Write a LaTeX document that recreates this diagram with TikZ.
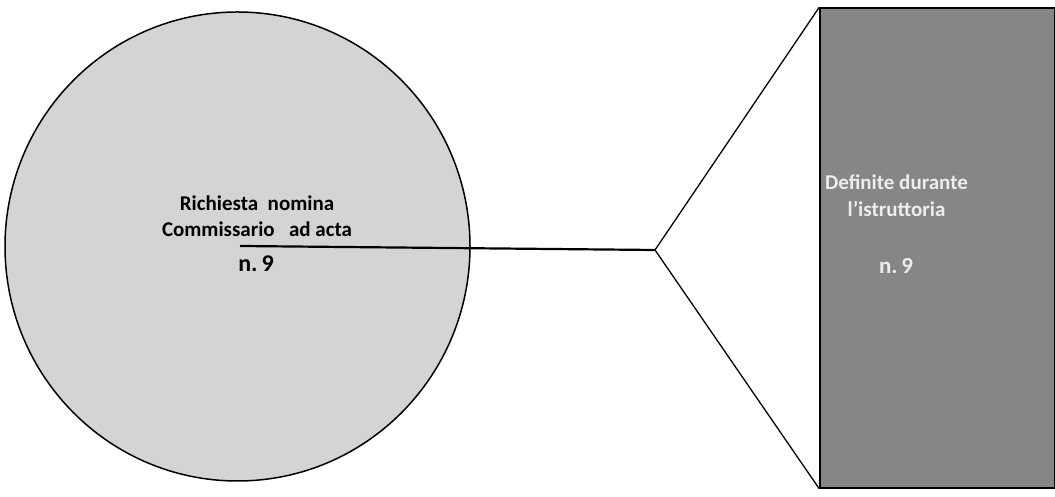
\documentclass[tikz,border=0pt]{standalone}
\usepackage{fontspec}
\setmainfont{Carlito}
\usepackage{tikz}
\usetikzlibrary{shapes.geometric,positioning}
\definecolor{discfill}{HTML}{D4D4D4}
\definecolor{boxfill}{HTML}{868686}
\definecolor{boxtext}{HTML}{EDEDED}

\begin{document}
\begin{tikzpicture}[x=1pt, y=1pt,
  disc/.style={ellipse, draw=black, line width=1.5pt, fill=discfill, inner sep=0pt,
    minimum width=465pt, minimum height=469pt},
  bar/.style={rectangle, draw=black, line width=1.5pt, fill=boxfill, inner sep=0pt,
    minimum width=235pt, minimum height=480pt},
  link/.style={draw=black, line width=1.3pt},
  lbl/.style={align=center, font=\bfseries\fontsize{21}{26}\selectfont, inner sep=0pt}]
  \useasboundingbox (0,0) rectangle (1055,497);
  \node[disc] (req) at (237.5,250.5) {};
  \node[bar] (def) at (937.5,249) {};
  \coordinate (hub) at (240,251);
  \coordinate (fork) at (655,247);
  \draw[link, line width=2.2pt] (hub) -- (fork);
  \draw[link] (fork) -- (def.north west);
  \draw[link] (fork) -- (def.south west);
  \node[lbl] (reqtxt) at (257,281) {Richiesta\ \ nomina\\Commissario\ \ \ ad acta};
  \node[lbl, font=\bfseries\fontsize{24}{28}\selectfont] (reqnum) at (256,233) {n.\,9};
  \node[lbl, text=boxtext, font=\bfseries\fontsize{21}{27}\selectfont] (deftxt) at (896.5,301)
    {Definite durante\\l'istruttoria};
  \node[lbl, text=boxtext, font=\bfseries\fontsize{23}{27}\selectfont] (defnum) at (896,231) {n.\,9};
\end{tikzpicture}
\end{document}
